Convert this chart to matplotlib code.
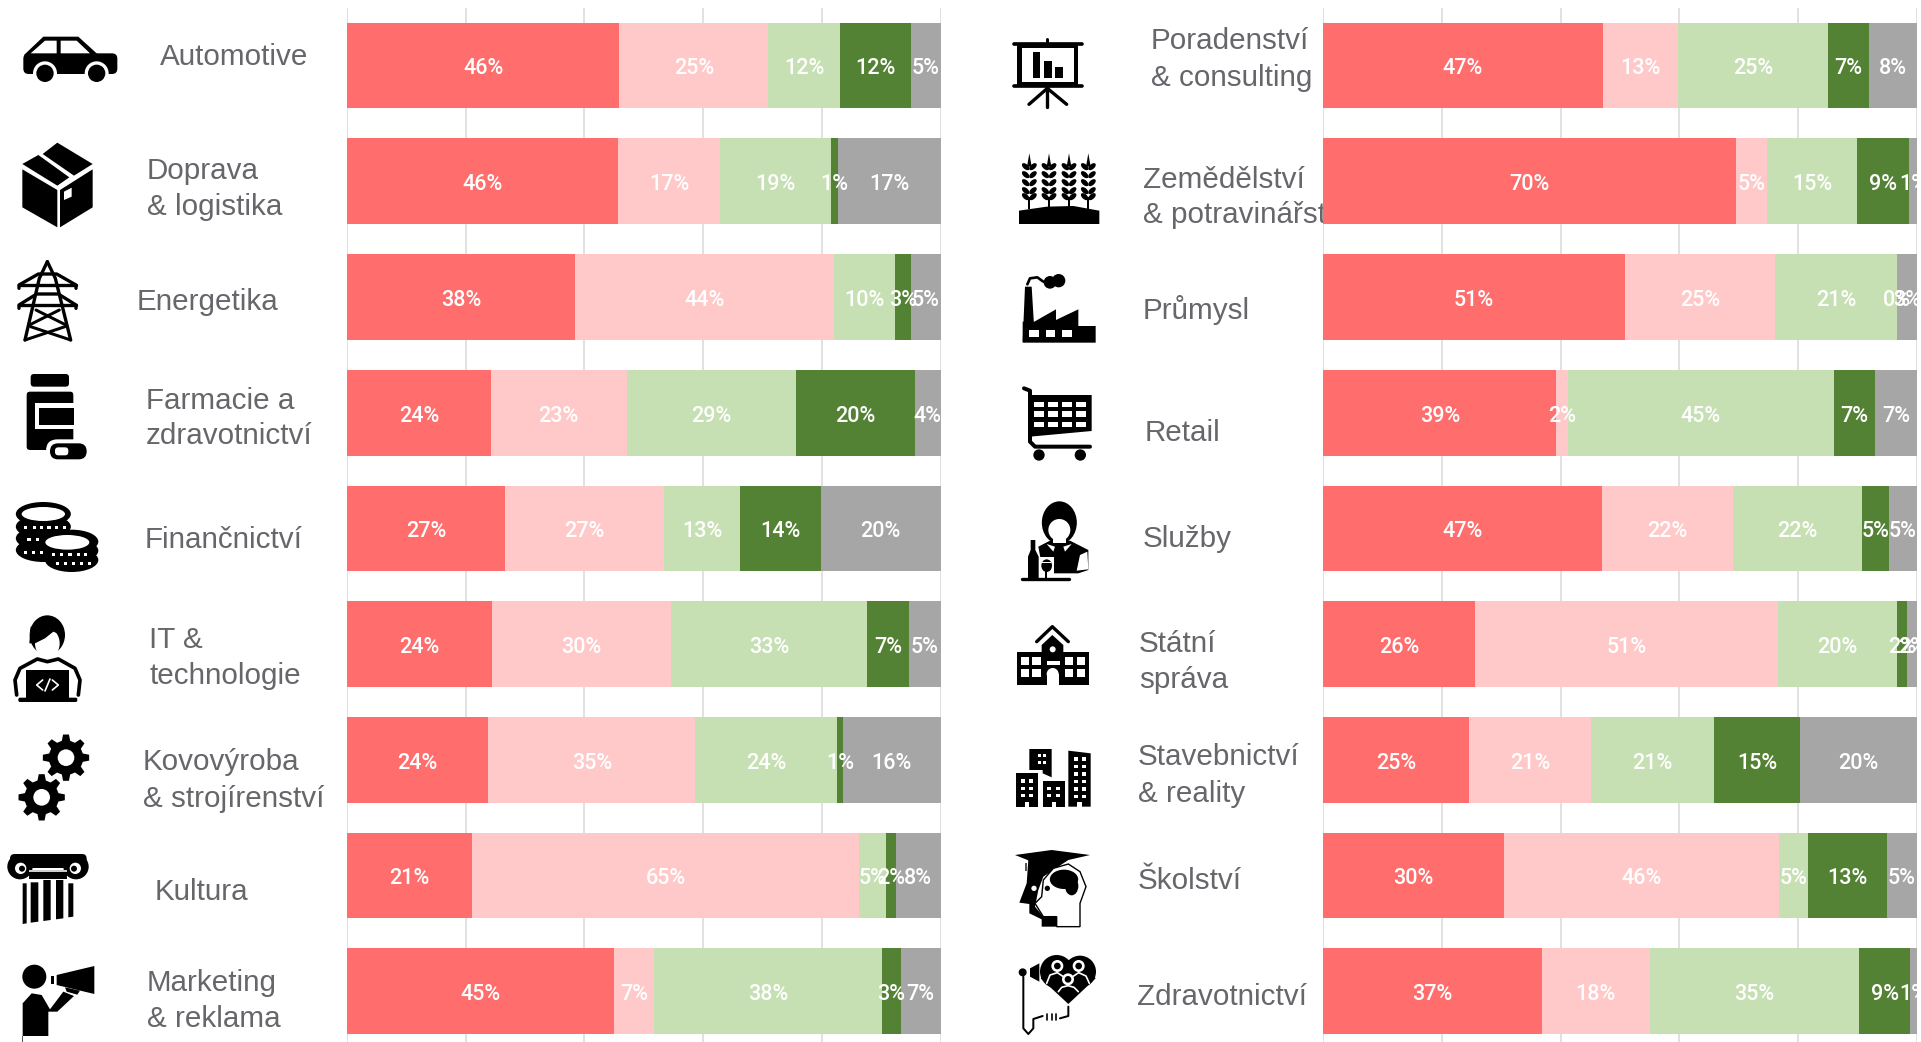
import numpy as np
import matplotlib
matplotlib.use('Agg')
import matplotlib.pyplot as plt
from matplotlib.patches import Polygon, Circle, Ellipse, Rectangle, FancyBboxPatch

W, H = 1921, 1042
BAR_FONT = 'Roboto'

# ---------- data (percent of respondents per sector) ----------
left_sectors = [['Automotive'], ['Doprava', '& logistika'], ['Energetika'],
                ['Farmacie a', 'zdravotnictví'], ['Finančnictví'], ['IT &', 'technologie'],
                ['Kovovýroba', '& strojírenství'], ['Kultura'], ['Marketing', '& reklama']]
right_sectors = [['Poradenství', '& consulting'], ['Zemědělství', '& potravinářství'], ['Průmysl'],
                 ['Retail'], ['Služby'], ['Státní', 'správa'],
                 ['Stavebnictví', '& reality'], ['Školství'], ['Zdravotnictví']]

left_red = [45.9, 45.7, 38.4, 24.2, 26.6, 24.4, 23.8, 21.1, 45.0]
left_pink = [25.1, 17.2, 43.7, 22.9, 26.8, 30.2, 34.9, 65.2, 6.8]
left_lgreen = [12.1, 18.6, 10.2, 28.6, 12.8, 33.1, 23.9, 4.6, 38.3]
left_dgreen = [12.0, 1.3, 2.7, 20.0, 13.6, 7.0, 1.0, 1.6, 3.2]
left_grey = [4.9, 17.2, 5.0, 4.3, 20.2, 5.3, 16.4, 7.5, 6.7]

right_red = [47.1, 69.6, 50.8, 39.3, 46.9, 25.6, 24.6, 30.4, 36.8]
right_pink = [12.7, 5.2, 25.3, 1.9, 22.1, 51.0, 20.6, 46.4, 18.2]
right_lgreen = [25.2, 15.2, 20.6, 44.8, 21.8, 20.1, 20.6, 4.9, 35.3]
right_dgreen = [6.9, 8.7, 0.0, 7.0, 4.6, 1.6, 14.6, 13.3, 8.6]
right_grey = [8.1, 1.3, 3.3, 7.0, 4.6, 1.7, 19.6, 5.0, 1.1]

seg_colors = ['#FF6D6D', '#FFC9C9', '#C6E0B4', '#548235', '#A6A6A6']
grid_ticks = [0, 20, 40, 60, 80, 100]

fig = plt.figure(figsize=(W / 100, H / 100), dpi=100, facecolor='white')


def make_axes(x0, x1):
    y0, y1 = 8, 1042
    ax = fig.add_axes([x0 / W, 1 - y1 / H, (x1 - x0) / W, (y1 - y0) / H], zorder=2)
    ax.patch.set_alpha(0)
    ax.set_xlim(0, 100)
    ax.set_ylim((1042 - 65.6) / 115.7, (8 - 65.6) / 115.7)
    for s in ax.spines.values():
        s.set_visible(False)
    ax.set_yticks([])
    ax.set_xticks(grid_ticks)
    ax.tick_params(length=0, labelbottom=False)
    ax.grid(axis='x', color='#D9D9D9', lw=1.1)
    ax.set_axisbelow(True)
    return ax


def draw_stack(ax, series):
    n = len(series[0])
    left = np.zeros(n)
    for vals, col in zip(series, seg_colors):
        vals = np.array(vals, float)
        ax.barh(np.arange(n), vals, left=left, height=0.74, color=col, lw=0)
        for i, v in enumerate(vals):
            ax.annotate(f'{round(v)}%', (left[i] + v / 2, i), xytext=(0, -2.4), textcoords='offset points',
                        color='white', ha='center', va='center', fontsize=15.5, family=BAR_FONT,
                        fontweight='medium', annotation_clip=False, clip_on=True)
        left += vals


axL = make_axes(347, 940.5)
axR = make_axes(1323.2, 1916.7)
draw_stack(axL, [left_red, left_pink, left_lgreen, left_dgreen, left_grey])
draw_stack(axR, [right_red, right_pink, right_lgreen, right_dgreen, right_grey])

# ---------- overlay in pixel coordinates: sector names and pictograms ----------
ov = fig.add_axes([0, 0, 1, 1], zorder=1)
ov.set_xlim(0, W)
ov.set_ylim(H, 0)
ov.axis('off')

left_pos = [(160, [57]), (147, [171, 207]), (137, [302]), (146, [401, 436]), (145, [540]),
            (149, [640, 676]), (143, [762, 799]), (155, [892]), (147, [983, 1019])]
right_pos = [(1151, [41, 78]), (1143, [180, 215]), (1143, [310]), (1145, [433]), (1143, [539]),
             (1139, [644, 680]), (1138, [757, 794]), (1138, [881]), (1137, [997])]
clip = Rectangle((0, 0), 1323, H, transform=ov.transData)
for names_, pos in ((left_sectors, left_pos), (right_sectors, right_pos)):
    for lines, (x, ys) in zip(names_, pos):
        for t, y in zip(lines, ys):
            tx = ov.text(x, y, t, fontsize=21.3, family='Liberation Sans', color='#66666B',
                         ha='left', va='center')
            tx.set_clip_path(clip)
            tx.set_clip_on(True)

ox, oy = 0, 0


def X(x):
    return ox + x / 3


def Y(y):
    return oy + y / 3


def poly(pts, fc='k'):
    ov.add_patch(Polygon([(X(a), Y(b)) for a, b in pts], closed=True, fc=fc, ec='none'))


def rect(x0, y0, x1, y1, fc='k'):
    ov.add_patch(Rectangle((X(x0), Y(y0)), (x1 - x0) / 3, (y1 - y0) / 3, fc=fc, ec='none'))


def rrect(x0, y0, x1, y1, r, fc='k'):
    r3 = r / 3
    ov.add_patch(FancyBboxPatch((X(x0) + r3, Y(y0) + r3), (x1 - x0) / 3 - 2 * r3, (y1 - y0) / 3 - 2 * r3,
                                boxstyle=f'round,pad={r3},rounding_size={r3}', fc=fc, ec='none'))


def circ(x, y, r, fc='k'):
    ov.add_patch(Circle((X(x), Y(y)), r / 3, fc=fc, ec='none'))


def ell(x, y, w, h, fc='k', ang=0, ec='none', lw=0):
    ov.add_patch(Ellipse((X(x), Y(y)), w / 3, h / 3, angle=ang, fc=fc, ec=ec, lw=lw))


def line(pts, lw, c='k'):
    ov.plot([X(a) for a, b in pts], [Y(b) for a, b in pts], color=c, lw=lw / 3 * 0.72,
            solid_capstyle='round', solid_joinstyle='round')


def gear(cx, cy, R, r_body, hole, teeth=8):
    pts = []
    for k in range(teeth):
        a = 2 * np.pi * k / teeth
        d = np.pi / teeth
        for off, rad in ((-0.62 * d, r_body), (-0.32 * d, R), (0.32 * d, R), (0.62 * d, r_body)):
            pts.append((cx + rad * np.cos(a + off), cy + rad * np.sin(a + off)))
    poly(pts)
    circ(cx, cy, r_body - 5)
    circ(cx, cy, hole, 'white')


# --- car
ox, oy = 0, 20
rrect(70, 100, 352, 162, 16)
poly([(72, 105), (130, 50), (235, 50), (292, 102)])
poly([(92, 100), (135, 62), (170, 62), (170, 100)], 'white')
poly([(182, 62), (230, 62), (270, 100), (182, 100)], 'white')
for cx in (135, 290):
    circ(cx, 160, 36, 'white')
    circ(cx, 160, 26)

# --- box
poly([(172, 368), (278, 432), (222, 467), (128, 402)])
poly([(115, 405), (208, 472), (172, 497), (67, 432)])
poly([(67, 448), (172, 510), (172, 622), (67, 562)])
poly([(180, 510), (278, 448), (278, 562), (180, 622)])
poly([(192, 515), (215, 503), (215, 530), (192, 540)], 'white')

# --- pylon
line([(142, 725), (118, 775), (75, 960)], 10)
line([(142, 725), (166, 775), (212, 960)], 10)
line([(57, 805), (57, 795), (115, 762), (170, 762), (228, 795), (228, 805)], 10)
line([(57, 795), (228, 795)], 10)
line([(57, 865), (57, 855), (110, 822), (175, 822), (228, 855), (228, 865)], 10)
line([(57, 855), (228, 855)], 10)
line([(108, 870), (198, 915)], 9)
line([(178, 870), (88, 915)], 9)
line([(92, 920), (212, 960)], 9)
line([(195, 920), (75, 960)], 9)

# --- pill bottle
ox, oy = 0, 360
rrect(92, 42, 207, 80, 10)
rrect(80, 95, 220, 270, 10)
rect(105, 130, 222, 208, 'white')
rect(118, 145, 222, 195)
rrect(138, 238, 270, 308, 35, 'white')
rrect(150, 250, 260, 298, 24)
rrect(165, 262, 205, 286, 10, 'white')

# --- coins
for cy in (570, 535, 500, 462):
    ell(130, cy, 165, 72)
for cy in (600, 572, 545):
    ell(215, cy, 160, 72)
ell(130, 462, 130, 42, 'white')
ell(202, 547, 132, 44, 'white')
for x in (72, 98, 120, 142, 165, 188):
    rect(x, 497, x + 10, 506, 'white')
for x in (82, 108):
    rect(x, 535, x + 10, 544, 'white')
for x in (72, 95, 120):
    rect(x, 572, x + 10, 581, 'white')
for x in (155, 180, 205, 230, 252):
    rect(x, 578, x + 10, 587, 'white')
for x in (168, 192, 215, 240, 265):
    rect(x, 607, x + 9, 616, 'white')

# --- IT person
ell(142, 825, 106, 118)
ell(142, 850, 74, 90, 'white')
poly([(92, 800), (190, 800), (185, 825), (160, 815), (135, 835), (105, 850), (88, 850)])
line([(50, 1005), (45, 960), (60, 925), (112, 897), (142, 905), (175, 897), (225, 925), (240, 960), (235, 1005)], 11)
rect(78, 930, 207, 1015)
rrect(55, 1013, 232, 1026, 5)
line([(128, 960), (110, 975), (128, 990)], 5, 'white')
line([(157, 960), (175, 975), (157, 990)], 5, 'white')
line([(150, 957), (135, 993)], 5, 'white')

# --- gears
ox, oy = 0, 720
gear(198, 113, 70, 52, 25)
gear(125, 232, 70, 52, 25)

# --- column
rrect(30, 402, 260, 430, 14)
circ(60, 440, 38)
circ(228, 440, 38)
rect(90, 402, 200, 445)
rect(88, 450, 200, 455, '#cccccc')
rect(88, 455, 200, 478)
circ(62, 445, 17, 'white')
circ(226, 445, 17, 'white')
circ(66, 446, 9)
circ(222, 446, 9)
poly([(68, 490), (80, 490), (80, 610), (68, 612)])
poly([(92, 487), (115, 487), (115, 605), (92, 608)])
poly([(130, 480), (152, 480), (152, 600), (130, 603)])
poly([(168, 480), (190, 480), (190, 595), (168, 598)])
poly([(205, 490), (220, 490), (220, 590), (205, 592)])

# --- megaphone man
circ(103, 770, 36)
poly([(68, 850), (95, 820), (125, 825), (150, 868), (190, 815), (222, 828), (172, 875), (145, 875), (145, 948), (68, 948)])
rect(66, 948, 70, 965, '#555555')
poly([(170, 765), (283, 738), (283, 822), (170, 795)])
rect(154, 768, 163, 792)
poly([(195, 802), (240, 812), (232, 824), (200, 815)])

# --- presentation board
ox, oy = 1000, 20
rect(52, 72, 235, 197)
rect(65, 85, 222, 185, 'white')
line([(42, 71), (245, 71)], 11)
line([(42, 197), (245, 197)], 11)
line([(142, 58), (142, 70)], 9)
line([(142, 197), (142, 260)], 10)
line([(142, 205), (87, 253)], 10)
line([(142, 205), (200, 253)], 10)
rect(98, 97, 120, 175)
rect(133, 122, 156, 175)
rect(166, 141, 189, 175)

# --- wheat
poly([(57, 572), (140, 560), (220, 558), (298, 572), (298, 612), (57, 612)])
for x in (88, 147, 207, 265):
    rect(x - 3, 530, x + 3, 566)
    poly([(x - 7, 440), (x, 400), (x + 7, 440)])
    for yy in (440, 464, 488, 512, 530):
        ell(x - 11, yy, 27, 15, ang=42)
        ell(x + 11, yy, 27, 15, ang=-42)

# --- factory
poly([(75, 800), (95, 800), (105, 965), (68, 965)])
poly([(68, 905), (103, 905), (168, 868), (168, 900), (235, 868), (235, 918), (287, 918), (287, 968), (68, 968)])
for x in (88, 137, 187):
    rect(x, 930, x + 28, 950, 'white')
line([(82, 793), (90, 775), (112, 772), (130, 785)], 8)
circ(150, 787, 19)
circ(176, 782, 20)

# --- cart
ox, oy = 1000, 370
line([(72, 55), (90, 62), (90, 215), (105, 230), (270, 230)], 12)
poly([(90, 75), (275, 75), (275, 183), (90, 200)])
for x in (103, 145, 187, 228):
    for yy in (95, 123, 155):
        rect(x, yy, x + 30, yy + 17, 'white')
circ(117, 255, 17)
circ(241, 255, 17)

# --- waitress
ell(178, 458, 105, 128)
ell(178, 480, 66, 66, 'white')
poly([(115, 530), (150, 512), (210, 512), (265, 540), (265, 600), (235, 610), (130, 610)])
rect(160, 508, 198, 518, 'white')
poly([(140, 522), (165, 530), (160, 545)], 'white')
poly([(215, 522), (190, 530), (195, 545)], 'white')
poly([(240, 555), (262, 545), (265, 598), (230, 602)], 'white')
poly([(84, 625), (84, 560), (92, 540), (92, 510), (106, 510), (106, 540), (116, 560), (116, 625)])
rect(118, 560, 162, 625, 'white')
ell(140, 587, 32, 38)
rect(136, 600, 142, 625)
rect(126, 575, 154, 580, 'white')
line([(66, 628), (208, 628)], 10)

# --- school
line([(110, 815), (157, 770), (205, 815)], 10)
poly([(125, 825), (157, 795), (190, 825), (190, 850), (125, 850)])
rect(52, 846, 266, 946)
for x0, x1 in ((64, 86), (97, 122), (195, 220), (232, 255)):
    for y0 in (862, 897):
        rect(x0, y0, x1, y0 + 23, 'white')
rect(140, 872, 180, 884, 'white')
rect(140, 912, 176, 946, 'white')
circ(158, 912, 18, 'white')
circ(158, 838, 9, 'white')

# --- buildings
ox, oy = 1000, 720
poly([(88, 87), (155, 87), (155, 172), (128, 160), (128, 150), (88, 150)])
rect(47, 160, 115, 260)
rect(128, 183, 195, 260)
poly([(205, 92), (272, 100), (272, 260), (205, 260)])
for x in (113, 130):
    for yy in (103, 122):
        rect(x, yy, x + 9, yy + 9, 'white')
for x in (63, 88):
    for yy in (178, 200, 222):
        rect(x, yy, x + 11, yy + 10, 'white')
rect(75, 245, 88, 260, 'white')
for x in (142, 168):
    for yy in (200, 222):
        rect(x, yy, x + 11, yy + 10, 'white')
rect(155, 245, 168, 260, 'white')
for x in (222, 246):
    for yy in (112, 135, 157, 180, 202, 225):
        rect(x, yy, x + 11, yy + 10, 'white')
rect(232, 245, 246, 260, 'white')

# --- head with cap
poly([(45, 405), (155, 390), (270, 405), (205, 420), (95, 425)])
poly([(85, 420), (205, 420), (130, 470), (115, 510), (105, 560), (130, 590), (170, 590), (170, 620), (125, 620),
      (125, 598), (88, 580), (88, 552), (58, 548), (80, 490)])
ov.add_patch(Polygon([(X(a), Y(b)) for a, b in [(205, 432), (240, 455), (258, 500), (240, 550), (240, 620), (170, 620),
                                                 (170, 590), (130, 590), (105, 550), (125, 530), (130, 480), (160, 445)]],
                     closed=True, fc='white', ec='k', lw=1.0))
ell(192, 478, 85, 58)
ell(215, 498, 40, 56)
circ(102, 505, 8, 'white')
circ(142, 505, 8)
rect(76, 430, 80, 452, '#555555')

# --- heart and megaphone
circ(170, 755, 50)
circ(240, 755, 48)
poly([(122, 775), (205, 852), (287, 775), (240, 720), (170, 720)])
for cx, cy in ((172, 738), (236, 738), (204, 778)):
    circ(cx, cy, 18, 'white')
    circ(cx, cy, 10)
line([(140, 790), (150, 765), (172, 758), (190, 770)], 5, 'white')
line([(218, 770), (236, 758), (258, 768), (268, 790)], 5, 'white')
line([(175, 815), (185, 802), (204, 797), (222, 802), (235, 815)], 5, 'white')
circ(68, 757, 12)
poly([(90, 745), (118, 730), (118, 785), (90, 770)])
line([(70, 770), (70, 925), (85, 942), (100, 925), (100, 897), (128, 888)], 6)
for x in (142, 155, 168):
    line([(x, 882), (x, 900)], 5)
line([(180, 895), (205, 888), (205, 860)], 6)

fig.savefig('out.png', dpi=100, facecolor='white')
